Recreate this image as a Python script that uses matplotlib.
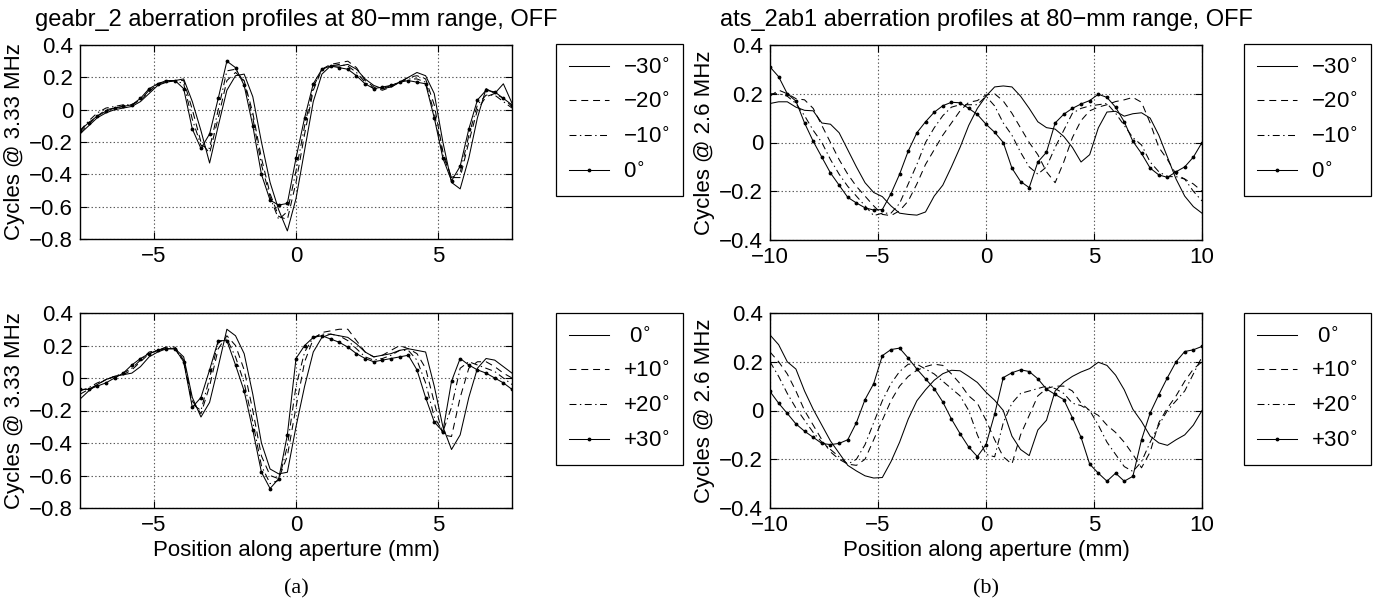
import numpy as np
import matplotlib
matplotlib.use('Agg')
import matplotlib.pyplot as plt
from matplotlib.ticker import FuncFormatter

# ---------------- data ----------------
x_left = np.linspace(-7.6, 7.6, 51)
x_right = np.linspace(-10.0, 10.0, 51)

# geabr_2 (left panels); the 0 deg profile is shared by both rows
geabr_0 = [-0.13, -0.08, -0.04, -0.01, 0.01, 0.02, 0.03, 0.07, 0.13, 0.16,
           0.18, 0.18, 0.13, -0.12, -0.24, -0.15, 0.07, 0.30, 0.26, 0.15,
           -0.10, -0.40, -0.56, -0.59, -0.58, -0.30, -0.05, 0.16, 0.25, 0.27,
           0.26, 0.25, 0.21, 0.16, 0.13, 0.14, 0.15, 0.17, 0.18, 0.17,
           0.16, -0.05, -0.30, -0.44, -0.35, -0.12, 0.06, 0.12, 0.11, 0.07, 0.03]
geabr_m30 = [-0.15, -0.10, -0.05, -0.02, 0.00, 0.01, 0.02, 0.05, 0.10, 0.15,
             0.17, 0.18, 0.19, 0.05, -0.13, -0.33, -0.10, 0.12, 0.21, 0.22,
             0.08, -0.20, -0.45, -0.62, -0.75, -0.55, -0.25, 0.05, 0.22, 0.27,
             0.27, 0.28, 0.25, 0.19, 0.15, 0.13, 0.14, 0.17, 0.20, 0.23,
             0.21, 0.10, -0.20, -0.45, -0.49, -0.30, -0.05, 0.13, 0.10, 0.16, 0.04]
geabr_m20 = [-0.14, -0.09, -0.04, 0.00, 0.01, 0.02, 0.03, 0.06, 0.11, 0.16,
             0.17, 0.18, 0.18, 0.00, -0.20, -0.27, -0.05, 0.18, 0.23, 0.18,
             -0.02, -0.30, -0.52, -0.66, -0.68, -0.45, -0.15, 0.12, 0.25, 0.28,
             0.29, 0.30, 0.26, 0.18, 0.14, 0.12, 0.14, 0.17, 0.20, 0.21,
             0.19, 0.03, -0.26, -0.42, -0.42, -0.20, 0.00, 0.08, 0.10, 0.07, 0.02]
geabr_m10 = [-0.13, -0.07, -0.02, 0.01, 0.02, 0.03, 0.03, 0.06, 0.12, 0.16,
             0.18, 0.18, 0.16, -0.06, -0.22, -0.24, 0.00, 0.24, 0.25, 0.17,
             -0.05, -0.34, -0.54, -0.68, -0.63, -0.38, -0.10, 0.14, 0.25, 0.27,
             0.28, 0.27, 0.23, 0.17, 0.13, 0.13, 0.15, 0.17, 0.19, 0.19,
             0.17, -0.02, -0.28, -0.42, -0.39, -0.16, 0.03, 0.09, 0.09, 0.05, 0.01]
geabr_p10 = [-0.10, -0.07, -0.04, -0.01, 0.01, 0.02, 0.05, 0.10, 0.15, 0.17,
             0.19, 0.19, 0.11, -0.14, -0.22, -0.05, 0.18, 0.26, 0.20, 0.05,
             -0.20, -0.48, -0.60, -0.62, -0.48, -0.18, 0.10, 0.24, 0.28, 0.29,
             0.30, 0.30, 0.23, 0.16, 0.13, 0.14, 0.17, 0.20, 0.18, 0.15,
             0.06, -0.15, -0.35, -0.36, -0.12, 0.06, 0.10, 0.10, 0.07, 0.03, 0.00]
geabr_p20 = [-0.08, -0.06, -0.03, -0.01, 0.01, 0.03, 0.06, 0.11, 0.16, 0.17,
             0.19, 0.18, 0.10, -0.16, -0.20, 0.00, 0.22, 0.24, 0.13, -0.03,
             -0.27, -0.54, -0.65, -0.63, -0.42, -0.05, 0.16, 0.25, 0.27, 0.27,
             0.26, 0.23, 0.18, 0.13, 0.11, 0.12, 0.14, 0.17, 0.17, 0.11,
             -0.03, -0.24, -0.33, -0.18, 0.06, 0.10, 0.08, 0.06, 0.04, 0.00, -0.04]
geabr_p30 = [-0.07, -0.07, -0.05, -0.03, 0.00, 0.03, 0.08, 0.12, 0.15, 0.17,
             0.18, 0.18, 0.10, -0.18, -0.12, 0.05, 0.23, 0.23, 0.08, -0.08,
             -0.32, -0.58, -0.68, -0.62, -0.35, 0.12, 0.20, 0.25, 0.26, 0.24,
             0.22, 0.19, 0.15, 0.12, 0.10, 0.11, 0.12, 0.13, 0.14, 0.05,
             -0.12, -0.27, -0.33, -0.02, 0.12, 0.08, 0.05, 0.03, 0.00, -0.03, -0.07]

# ats_2ab1 (right panels); the 0 deg profile is shared by both rows
ats_0 = [0.31, 0.27, 0.20, 0.17, 0.08, 0.005, -0.06, -0.125, -0.175, -0.225,
         -0.248, -0.268, -0.277, -0.275, -0.21, -0.13, -0.035, 0.04, 0.085, 0.124,
         0.151, 0.165, 0.163, 0.14, 0.115, 0.075, 0.042, 0.0, -0.105, -0.16,
         -0.185, -0.08, -0.04, 0.08, 0.116, 0.14, 0.158, 0.172, 0.198, 0.185,
         0.145, 0.085, 0.005, -0.045, -0.105, -0.133, -0.143, -0.12, -0.1, -0.06, 0.0]
ats_m30 = [0.16, 0.167, 0.167, 0.145, 0.132, 0.13, 0.08, 0.075, 0.04, -0.03,
           -0.1, -0.165, -0.205, -0.222, -0.26, -0.29, -0.295, -0.298, -0.285, -0.22,
           -0.175, -0.1, -0.02, 0.07, 0.14, 0.19, 0.228, 0.232, 0.228, 0.19,
           0.14, 0.085, 0.061, 0.055, 0.025, -0.02, -0.08, -0.05, 0.06, 0.125,
           0.128, 0.108, 0.118, 0.122, 0.1, 0.03, -0.06, -0.15, -0.22, -0.263, -0.29]
ats_m20 = [0.19, 0.215, 0.2, 0.18, 0.175, 0.14, 0.07, 0.0, -0.07, -0.13,
           -0.18, -0.22, -0.26, -0.295, -0.3, -0.28, -0.24, -0.17, -0.09, -0.03,
           0.03, 0.08, 0.13, 0.165, 0.172, 0.195, 0.2, 0.17, 0.12, 0.06,
           0.0, -0.05, -0.12, -0.165, -0.08, 0.02, 0.09, 0.13, 0.145, 0.155,
           0.168, 0.175, 0.185, 0.165, 0.08, -0.02, -0.07, -0.13, -0.15, -0.17, -0.2]
ats_m10 = [0.2, 0.2, 0.19, 0.16, 0.11, 0.05, 0.0, -0.07, -0.13, -0.18,
           -0.22, -0.26, -0.3, -0.29, -0.29, -0.25, -0.17, -0.09, 0.0, 0.06,
           0.11, 0.145, 0.155, 0.155, 0.155, 0.19, 0.15, 0.08, 0.03, -0.04,
           -0.1, -0.13, -0.1, -0.02, 0.05, 0.12, 0.14, 0.15, 0.155, 0.16,
           0.12, 0.07, 0.02, -0.01, -0.08, -0.12, -0.14, -0.14, -0.15, -0.2, -0.24]
ats_p10 = [0.24, 0.2, 0.15, 0.08, 0.0, -0.06, -0.12, -0.17, -0.2, -0.22,
           -0.225, -0.2, -0.12, -0.04, 0.04, 0.1, 0.14, 0.165, 0.18, 0.19,
           0.185, 0.15, 0.11, 0.06, 0.03, -0.04, -0.12, -0.19, -0.22, -0.1,
           -0.02, 0.06, 0.09, 0.1, 0.1, 0.08, 0.03, 0.0, -0.02, -0.06,
           -0.09, -0.13, -0.18, -0.235, -0.17, -0.05, 0.01, 0.06, 0.12, 0.17, 0.2]
ats_p20 = [0.2, 0.14, 0.07, 0.01, -0.04, -0.09, -0.13, -0.16, -0.19, -0.22,
           -0.2, -0.14, -0.05, 0.04, 0.11, 0.16, 0.19, 0.19, 0.17, 0.15,
           0.12, 0.09, 0.06, 0.0, -0.1, -0.18, -0.19, -0.05, 0.03, 0.07,
           0.08, 0.09, 0.1, 0.09, 0.07, 0.03, 0.02, 0.0, -0.06, -0.13,
           -0.18, -0.23, -0.25, -0.21, -0.13, -0.06, 0.0, 0.04, 0.08, 0.15, 0.22]
ats_p30 = [0.078, 0.03, -0.012, -0.055, -0.085, -0.11, -0.135, -0.14, -0.135, -0.12,
           -0.05, 0.045, 0.11, 0.225, 0.25, 0.256, 0.215, 0.17, 0.13, 0.09,
           0.035, -0.035, -0.095, -0.15, -0.189, -0.14, -0.015, 0.135, 0.155, 0.167,
           0.16, 0.13, 0.088, 0.066, 0.045, -0.03, -0.11, -0.22, -0.257, -0.29,
           -0.257, -0.29, -0.27, -0.12, -0.01, 0.065, 0.135, 0.2, 0.242, 0.249, 0.263]

labels_neg = ['\u221230$^{\\circ}$', '\u221220$^{\\circ}$', '\u221210$^{\\circ}$', '0$^{\\circ}$']
labels_pos = [' 0$^{\\circ}$', '+10$^{\\circ}$', '+20$^{\\circ}$', '+30$^{\\circ}$']

title_left = 'geabr_2 aberration profiles at 80\u2212mm range, OFF'
title_right = 'ats_2ab1 aberration profiles at 80\u2212mm range, OFF'
ylabel_left = 'Cycles @ 3.33 MHz'
ylabel_right = 'Cycles @ 2.6 MHz'
xlabel = 'Position along aperture (mm)'

# ---------------- style ----------------
plt.rcParams['font.family'] = ['Liberation Sans', 'DejaVu Sans']
plt.rcParams['font.size'] = 16
plt.rcParams['lines.scale_dashes'] = False

W, H = 1380, 601
fig = plt.figure(figsize=(W / 100, H / 100), dpi=100)


def ax_at(x0, y0, x1, y1):
    return fig.add_axes([x0 / W, 1 - y1 / H, (x1 - x0) / W, (y1 - y0) / H])


STYLES = [dict(ls='-'),
          dict(ls=(0, (5, 3.5))),
          dict(ls=(0, (5, 2.5, 1, 2.5))),
          dict(ls='-', marker='.', ms=3.5)]

fmt = FuncFormatter(lambda v, p: ('%g' % v).replace('-', '\u2212'))


def panel(box, x, series, labels, xlim, ylim, xticks, yticks, ylabel,
          legend_xy, title=None, show_xlabel=False):
    ax = ax_at(*box)
    handles = []
    for y, st, lab in zip(series, STYLES, labels):
        h, = ax.plot(x, y, color='k', lw=0.75, label=lab, **st)
        handles.append(h)
    ax.set_xlim(*xlim)
    ax.set_ylim(*ylim)
    ax.set_xticks(xticks)
    ax.set_yticks(yticks)
    ax.xaxis.set_major_formatter(fmt)
    ax.yaxis.set_major_formatter(fmt)
    ax.grid(True, ls=':', color='0.35', lw=0.8)
    ax.tick_params(direction='in', top=True, right=True, length=5, width=0.8,
                   labelsize=16, pad=5)
    for s in ax.spines.values():
        s.set_linewidth(1.0)
    ax.set_ylabel(ylabel, fontsize=16, labelpad=3)
    if title:
        ax.set_title(title, fontsize=17, pad=14)
    if show_xlabel:
        ax.set_xlabel(xlabel, fontsize=16, labelpad=3)
    leg = fig.legend(handles=handles, loc='upper left',
                     bbox_to_anchor=(legend_xy[0] / W, 1 - legend_xy[1] / H),
                     bbox_transform=fig.transFigure, borderaxespad=0,
                     fontsize=16, handlelength=1.8, handletextpad=0.6,
                     labelspacing=0.62, borderpad=0.6, fancybox=False,
                     edgecolor='k', framealpha=1)
    leg.get_frame().set_linewidth(0.9)
    return ax


left_ticks_y = [-0.8, -0.6, -0.4, -0.2, 0, 0.2, 0.4]
right_ticks_y = [-0.4, -0.2, 0, 0.2, 0.4]

panel((80, 45, 512, 239), x_left, [geabr_m30, geabr_m20, geabr_m10, geabr_0],
      labels_neg, (-7.6, 7.6), (-0.8, 0.4), [-5, 0, 5], left_ticks_y,
      ylabel_left, (556, 44), title=title_left)
panel((80, 313, 512, 508), x_left, [geabr_0, geabr_p10, geabr_p20, geabr_p30],
      labels_pos, (-7.6, 7.6), (-0.8, 0.4), [-5, 0, 5], left_ticks_y,
      ylabel_left, (556, 313), show_xlabel=True)
panel((770, 45, 1202, 240), x_right, [ats_m30, ats_m20, ats_m10, ats_0],
      labels_neg, (-10, 10), (-0.4, 0.4), [-10, -5, 0, 5, 10], right_ticks_y,
      ylabel_right, (1244, 44), title=title_right)
panel((770, 313, 1202, 508), x_right, [ats_0, ats_p10, ats_p20, ats_p30],
      labels_pos, (-10, 10), (-0.4, 0.4), [-10, -5, 0, 5, 10], right_ticks_y,
      ylabel_right, (1244, 313), show_xlabel=True)

fig.text(296 / W, 1 - 589 / H, '(a)', ha='center', va='center',
         family='Liberation Serif', fontsize=16)
fig.text(986 / W, 1 - 589 / H, '(b)', ha='center', va='center',
         family='Liberation Serif', fontsize=16)

fig.savefig('out.png', dpi=100)
